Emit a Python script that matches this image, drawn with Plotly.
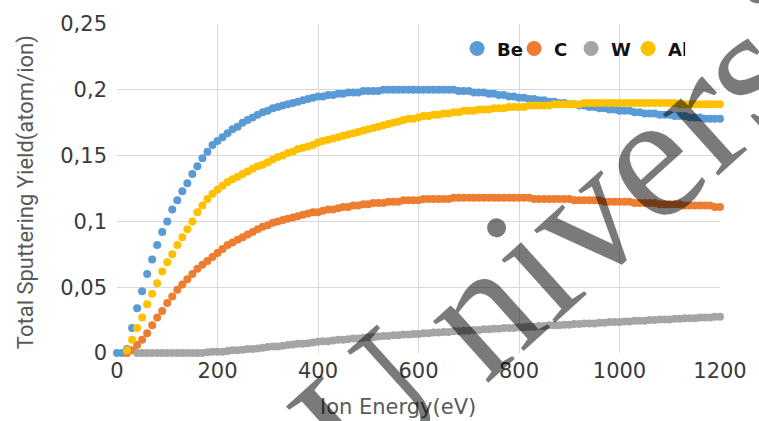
import plotly.graph_objects as go

# Ion energy grid (eV), 10 eV steps
energy = list(range(0, 1210, 10))

# Total sputtering yield (atom/ion) per target, one value per energy step
be_yield = [
    0.000, 0.000, 0.003, 0.019, 0.034, 0.047, 0.060, 0.071, 0.082, 0.092,
    0.100, 0.109, 0.116, 0.123, 0.129, 0.136, 0.142, 0.148, 0.153, 0.158,
    0.161, 0.164, 0.167, 0.170, 0.172, 0.175, 0.177, 0.179, 0.181, 0.183,
    0.184, 0.186, 0.187, 0.188, 0.189, 0.190, 0.191, 0.192, 0.193, 0.194,
    0.195, 0.195, 0.196, 0.196, 0.197, 0.197, 0.198, 0.198, 0.198, 0.199,
    0.199, 0.199, 0.199, 0.200, 0.200, 0.200, 0.200, 0.200, 0.200, 0.200,
    0.200, 0.200, 0.200, 0.200, 0.200, 0.200, 0.200, 0.200, 0.199, 0.199,
    0.199, 0.198, 0.198, 0.198, 0.197, 0.197, 0.196, 0.196, 0.195, 0.195,
    0.194, 0.194, 0.193, 0.193, 0.192, 0.192, 0.191, 0.191, 0.190, 0.190,
    0.189, 0.189, 0.188, 0.188, 0.187, 0.187, 0.186, 0.186, 0.185, 0.185,
    0.184, 0.184, 0.184, 0.183, 0.183, 0.182, 0.182, 0.182, 0.181, 0.181,
    0.181, 0.180, 0.180, 0.180, 0.179, 0.179, 0.179, 0.178, 0.178, 0.178,
    0.178,
]

c_yield = [
    None, None, 0.000, 0.002, 0.006, 0.010, 0.015, 0.021, 0.027, 0.032,
    0.038, 0.043, 0.048, 0.052, 0.056, 0.060, 0.064, 0.067, 0.070, 0.073,
    0.076, 0.079, 0.082, 0.084, 0.086, 0.088, 0.090, 0.092, 0.094, 0.096,
    0.097, 0.099, 0.100, 0.101, 0.102, 0.103, 0.104, 0.105, 0.106, 0.107,
    0.107, 0.108, 0.109, 0.109, 0.110, 0.111, 0.111, 0.112, 0.112, 0.113,
    0.113, 0.114, 0.114, 0.114, 0.115, 0.115, 0.115, 0.116, 0.116, 0.116,
    0.116, 0.117, 0.117, 0.117, 0.117, 0.117, 0.117, 0.118, 0.118, 0.118,
    0.118, 0.118, 0.118, 0.118, 0.118, 0.118, 0.118, 0.118, 0.118, 0.118,
    0.118, 0.118, 0.118, 0.117, 0.117, 0.117, 0.117, 0.117, 0.117, 0.117,
    0.117, 0.116, 0.116, 0.116, 0.116, 0.116, 0.116, 0.115, 0.115, 0.115,
    0.115, 0.115, 0.115, 0.114, 0.114, 0.114, 0.114, 0.114, 0.113, 0.113,
    0.113, 0.113, 0.113, 0.112, 0.112, 0.112, 0.112, 0.112, 0.112, 0.111,
    0.111,
]

w_yield = [
    None, None, None, None, 0.000, 0.000, 0.000, 0.000, 0.000, 0.000,
    0.000, 0.000, 0.000, 0.000, 0.000, 0.000, 0.000, 0.000, 0.0005, 0.001,
    0.001, 0.001, 0.0015, 0.002, 0.002, 0.0025, 0.003, 0.003, 0.0035, 0.004,
    0.0045, 0.005, 0.005, 0.0055, 0.006, 0.0065, 0.007, 0.007, 0.0075, 0.008,
    0.0085, 0.009, 0.009, 0.0095, 0.010, 0.010, 0.0105, 0.011, 0.011, 0.0115,
    0.012, 0.012, 0.0125, 0.013, 0.013, 0.0135, 0.0135, 0.014, 0.014, 0.0145,
    0.0145, 0.015, 0.015, 0.0155, 0.0155, 0.016, 0.016, 0.0165, 0.0165, 0.017,
    0.017, 0.0175, 0.0175, 0.018, 0.018, 0.0185, 0.0185, 0.019, 0.019, 0.019,
    0.0195, 0.0195, 0.020, 0.020, 0.0205, 0.0205, 0.021, 0.021, 0.021, 0.0215,
    0.0215, 0.022, 0.022, 0.0225, 0.0225, 0.0225, 0.023, 0.023, 0.0235, 0.0235,
    0.0235, 0.024, 0.024, 0.0245, 0.0245, 0.0245, 0.025, 0.025, 0.0255, 0.0255,
    0.0255, 0.026, 0.026, 0.0265, 0.0265, 0.0265, 0.027, 0.027, 0.027, 0.0275,
    0.0275,
]

al_yield = [
    None, None, 0.002, 0.010, 0.019, 0.027, 0.037, 0.045, 0.053, 0.062,
    0.069, 0.075, 0.082, 0.088, 0.094, 0.100, 0.107, 0.112, 0.117, 0.121,
    0.124, 0.127, 0.130, 0.132, 0.134, 0.136, 0.138, 0.140, 0.142, 0.143,
    0.145, 0.147, 0.149, 0.150, 0.152, 0.153, 0.155, 0.156, 0.157, 0.158,
    0.160, 0.161, 0.162, 0.163, 0.164, 0.165, 0.166, 0.167, 0.168, 0.169,
    0.170, 0.171, 0.172, 0.173, 0.174, 0.175, 0.176, 0.177, 0.178, 0.178,
    0.179, 0.180, 0.180, 0.181, 0.181, 0.182, 0.182, 0.183, 0.183, 0.184,
    0.184, 0.184, 0.185, 0.185, 0.185, 0.186, 0.186, 0.186, 0.187, 0.187,
    0.187, 0.187, 0.188, 0.188, 0.188, 0.188, 0.188, 0.189, 0.189, 0.189,
    0.189, 0.189, 0.189, 0.190, 0.190, 0.190, 0.190, 0.190, 0.190, 0.190,
    0.190, 0.190, 0.190, 0.190, 0.190, 0.190, 0.190, 0.190, 0.190, 0.190,
    0.190, 0.190, 0.189, 0.189, 0.189, 0.189, 0.189, 0.189, 0.189, 0.189,
    0.189,
]

series_names = ["Be", "C", "W", "Al"]
series_values = [be_yield, c_yield, w_yield, al_yield]
series_colors = ["#5B9BD5", "#ED7D31", "#A5A5A5", "#FFC000"]

x_ticks = [0, 200, 400, 600, 800, 1000, 1200]
y_ticks = [0, 0.05, 0.1, 0.15, 0.2, 0.25]

fig = go.Figure()

# data points
for name, vals, col in zip(series_names, series_values, series_colors):
    fig.add_trace(go.Scatter(
        x=energy, y=vals, mode="markers", name=name,
        marker=dict(size=8, color=col, line=dict(width=0)),
        cliponaxis=False, showlegend=False,
    ))

# legend entries with larger symbols
for name, col in zip(series_names, series_colors):
    fig.add_trace(go.Scatter(
        x=[None], y=[None], mode="markers", name=name,
        marker=dict(size=15, color=col, line=dict(width=0)),
        showlegend=True,
    ))

tick_font = dict(family="DejaVu Sans", size=21, color="#3a3a3a")
grid_col = "#d9d9d9"

fig.update_xaxes(
    range=[0, 1200], tickvals=x_ticks, showgrid=True, gridcolor=grid_col,
    gridwidth=1, zeroline=False, showline=False, ticks="",
    tickfont=tick_font, ticklabelstandoff=3,
)
fig.update_yaxes(
    range=[0, 0.25], tickvals=y_ticks, showgrid=True, gridcolor=grid_col,
    gridwidth=1, zeroline=False, showline=False, ticks="",
    tickfont=tick_font, ticklabelstandoff=9,
)

fig.update_layout(
    width=759, height=421,
    margin=dict(l=117, r=31, t=22, b=68),
    paper_bgcolor="white", plot_bgcolor="white",
    separators=", ",
    showlegend=True,
    legend=dict(
        orientation="h", x=0.564, xanchor="left", y=0.9245, yanchor="middle",
        bgcolor="rgba(0,0,0,0)", borderwidth=0,
        font=dict(family="DejaVu Sans", size=18, color="#111111", weight="bold"),
        entrywidth=12, entrywidthmode="pixels", itemwidth=30,
    ),
    annotations=[
        dict(text="Ion Energy(eV)", xref="paper", yref="paper",
             x=0.466, y=-0.163, xanchor="center", yanchor="middle",
             showarrow=False,
             font=dict(family="DejaVu Sans", size=21, color="#595959")),
        dict(text="Total Sputtering Yield(atom/ion)", xref="paper", yref="paper",
             x=-0.152, y=0.49, xanchor="center", yanchor="middle",
             textangle=-90, showarrow=False,
             font=dict(family="Roboto", size=22, color="#595959")),
        dict(text="U\u2009niversity", xref="paper", yref="paper",
             x=0.829, y=0.510, xanchor="center", yanchor="middle",
             textangle=-42, showarrow=False,
             font=dict(family="Liberation Serif", size=180,
                       color="rgba(0,0,0,0.52)")),
    ],
)

fig.write_html("out.html")
